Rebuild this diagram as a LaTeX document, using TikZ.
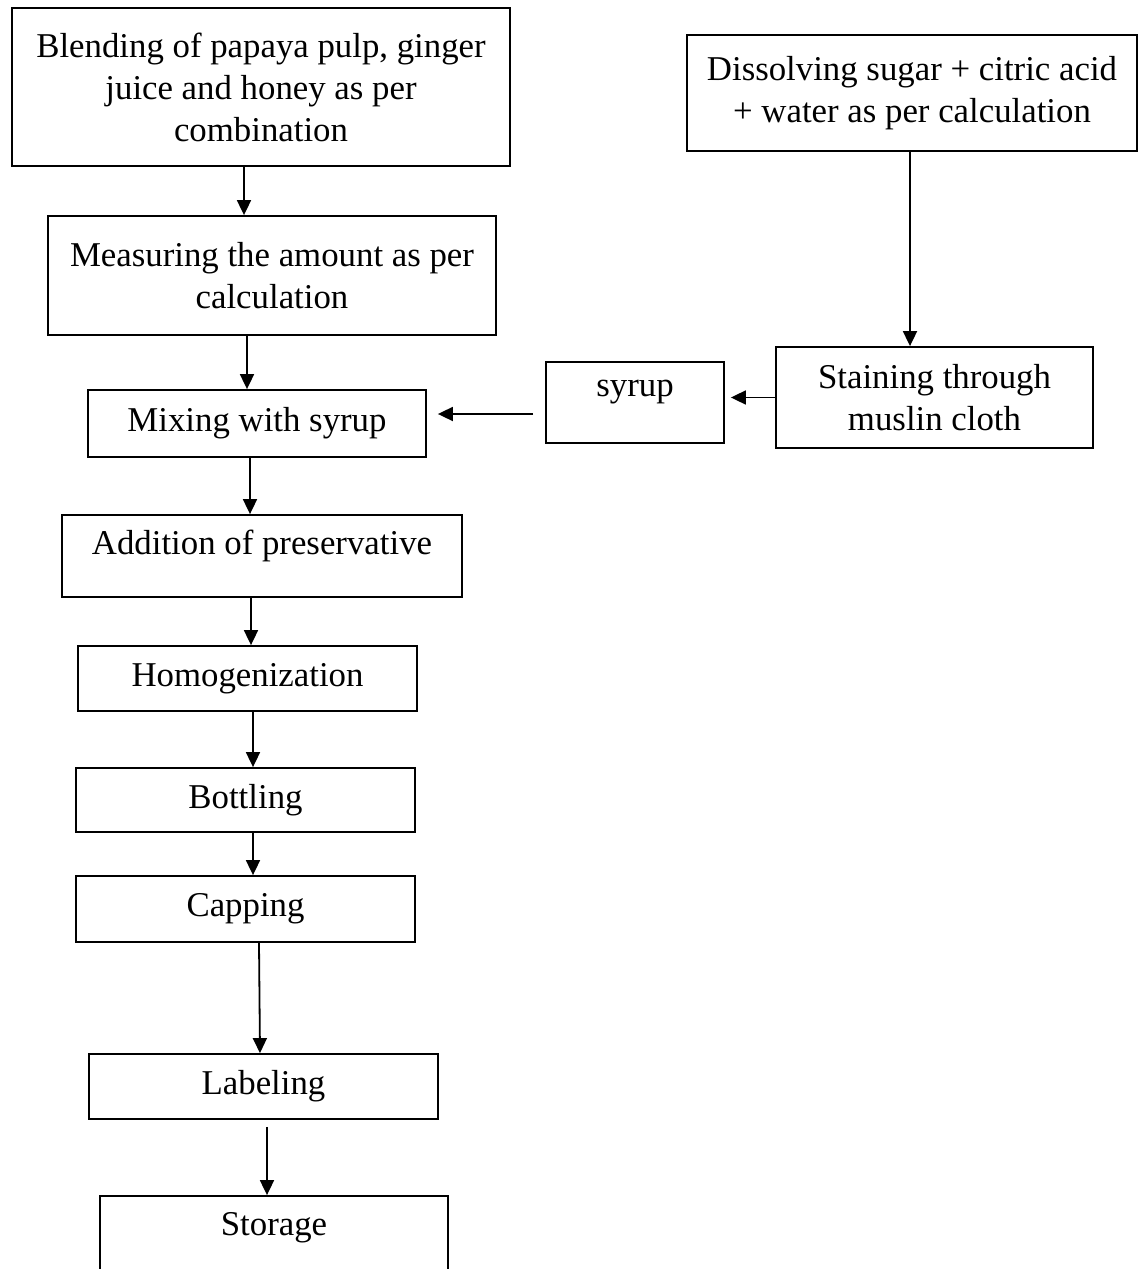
\documentclass[tikz,border=0pt]{standalone}
\usepackage{fontspec}
\setmainfont{Liberation Serif}
\usepackage{tikz}
\usetikzlibrary{arrows.meta}
\definecolor{flowBlack}{RGB}{0,0,0}

\begin{document}
\begin{tikzpicture}[x=0.5pt,y=-0.5pt,
  stage/.style={draw=flowBlack, line width=0.9pt, inner sep=0pt, align=center,
    font=\fontsize{17.4}{21}\selectfont},
  flow/.style={flowBlack, line width=0.9pt, -{Triangle[length=7.5pt,width=7pt]}}]
\clip (0,0) rectangle (1140,1269);
% left column
\node[stage, minimum width=249pt, minimum height=79pt] (blend) at (261,87)
  {Blending of papaya pulp, ginger\\juice and honey as per\\combination};
\node[stage, minimum width=224pt, minimum height=59.5pt] (measure) at (272,275.5)
  {Measuring the amount as per\\calculation};
\node[stage, minimum width=169pt, minimum height=33.5pt] (mixing) at (257,423.5) {Mixing with syrup};
\node[stage, minimum width=200pt, minimum height=41pt, text depth=14pt] (addition) at (262,556) {Addition of preservative};
\node[stage, minimum width=169.5pt, minimum height=32.5pt] (homog) at (247.5,678.5) {Homogenization};
\node[stage, minimum width=169.5pt, minimum height=32pt] (bottling) at (245.5,800) {Bottling};
\node[stage, minimum width=169.5pt, minimum height=33pt] (capping) at (245.5,909) {Capping};
\node[stage, minimum width=174.5pt, minimum height=32.5pt] (labeling) at (263.5,1086.5) {Labeling};
\node[stage, minimum width=174pt, minimum height=60pt, text depth=32pt] (storage) at (274,1256) {Storage};
% right column
\node[stage, minimum width=225pt, minimum height=58pt] (dissolve) at (912,93)
  {Dissolving sugar + citric acid\\+ water as per calculation};
\node[stage, minimum width=158.5pt, minimum height=50.5pt] (staining) at (934.5,397.5)
  {Staining through\\muslin cloth};
\node[stage, minimum width=89pt, minimum height=40.5pt, text depth=14pt] (syrup) at (635,402.5) {syrup};
% connectors
\draw[flow] ([xshift=-8.5pt]blend.south) -- ([xshift=-14pt]measure.north);
\draw[flow] ([xshift=-12.5pt]measure.south) -- ([xshift=-5pt]mixing.north);
\draw[flow] ([xshift=-3.5pt]mixing.south) -- ([xshift=-6pt]addition.north);
\draw[flow] ([xshift=-5.5pt]addition.south) -- ([xshift=1.75pt]homog.north);
\draw[flow] ([xshift=2.75pt]homog.south) -- ([xshift=3.75pt]bottling.north);
\draw[flow] ([xshift=3.75pt]bottling.south) -- ([xshift=3.75pt]capping.north);
\draw[flow] ([xshift=6.75pt]capping.south) -- ([xshift=-1.75pt]labeling.north);
\draw[flow, shorten <=3.5pt] ([xshift=1.75pt]labeling.south) -- ([xshift=-3.5pt]storage.north);
\draw[flow] ([xshift=-1pt]dissolve.south) -- ([xshift=-12.25pt]staining.north);
\draw[flow, shorten >=3pt] (staining.west) -- (staining.west -| syrup.east);
\draw[flow, shorten <=6pt, shorten >=5.5pt] ([yshift=-5.75pt]syrup.west) -- ([yshift=4.75pt]mixing.east);
\end{tikzpicture}
\end{document}
